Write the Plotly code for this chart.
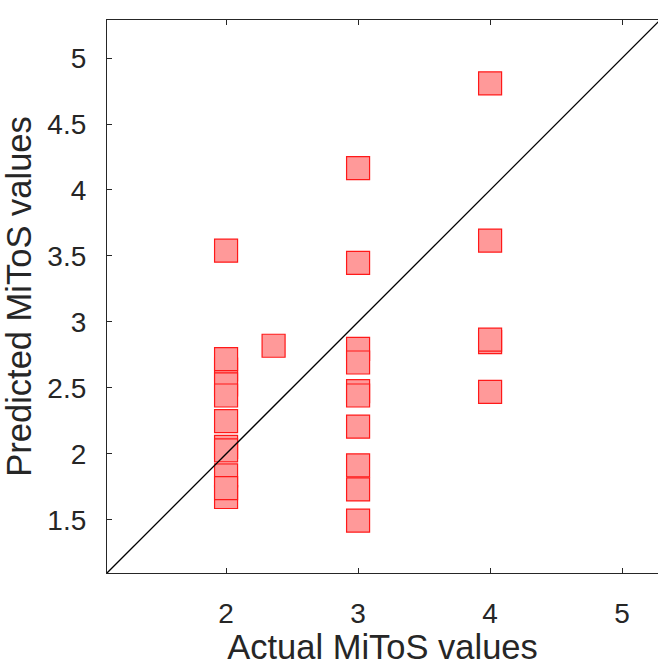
import plotly.graph_objects as go

# Data
actual = [2, 2, 2, 2, 2, 2, 2, 2, 2, 2, 2,
          2.36,
          3, 3, 3, 3, 3, 3, 3, 3, 3, 3,
          4, 4, 4, 4, 4]
predicted = [3.54, 2.64, 2.718, 2.527, 2.443, 2.248, 2.053, 2.027, 1.674, 1.837, 1.741,
             2.82,
             4.165, 3.448, 2.796, 2.693, 2.476, 2.443, 2.207, 1.913, 1.731, 1.495,
             4.808, 3.617, 2.847, 2.866, 2.47]

diag = [1.0, 6.0]
tick_vals_x = [2, 3, 4, 5]
tick_vals_y = [1.5, 2, 2.5, 3, 3.5, 4, 4.5, 5]
tick_text_y = ["1.5", "2", "2.5", "3", "3.5", "4", "4.5", "5"]

fig = go.Figure()
fig.add_trace(go.Scatter(
    x=actual, y=predicted, mode="markers",
    marker=dict(symbol="square", size=23, color="#FF9999",
                line=dict(color="rgb(255,25,25)", width=1.2)),
    showlegend=False, hoverinfo="x+y"))
fig.add_trace(go.Scatter(
    x=diag, y=diag, mode="lines",
    line=dict(color="black", width=1.3), showlegend=False))

axis_col = "#262626"
fig.update_layout(
    width=658, height=666,
    margin=dict(l=107, r=0, t=20, b=93),
    plot_bgcolor="white", paper_bgcolor="white",
    font=dict(family="Liberation Sans, Arial, sans-serif", color=axis_col),
    xaxis=dict(range=[1.098, 5.272], tickvals=tick_vals_x,
               ticks="inside", ticklen=5, tickwidth=1.2, tickcolor=axis_col,
               showline=True, linecolor=axis_col, linewidth=1.3, mirror="ticks",
               showgrid=False, zeroline=False,
               tickfont=dict(size=28, color=axis_col), ticklabelstandoff=15,
               title=dict(text="Actual MiToS values", font=dict(size=34.5, color=axis_col), standoff=1)),
    yaxis=dict(range=[1.098, 5.288], tickvals=tick_vals_y, ticktext=tick_text_y,
               ticks="inside", ticklen=5, tickwidth=1.2, tickcolor=axis_col,
               showline=True, linecolor=axis_col, linewidth=1.3, mirror=False,
               showgrid=False, zeroline=False,
               tickfont=dict(size=28, color=axis_col), ticklabelstandoff=14,
               title=dict(text="Predicted MiToS values", font=dict(size=34.5, color=axis_col), standoff=7)),
)

fig.write_html("out.html")
